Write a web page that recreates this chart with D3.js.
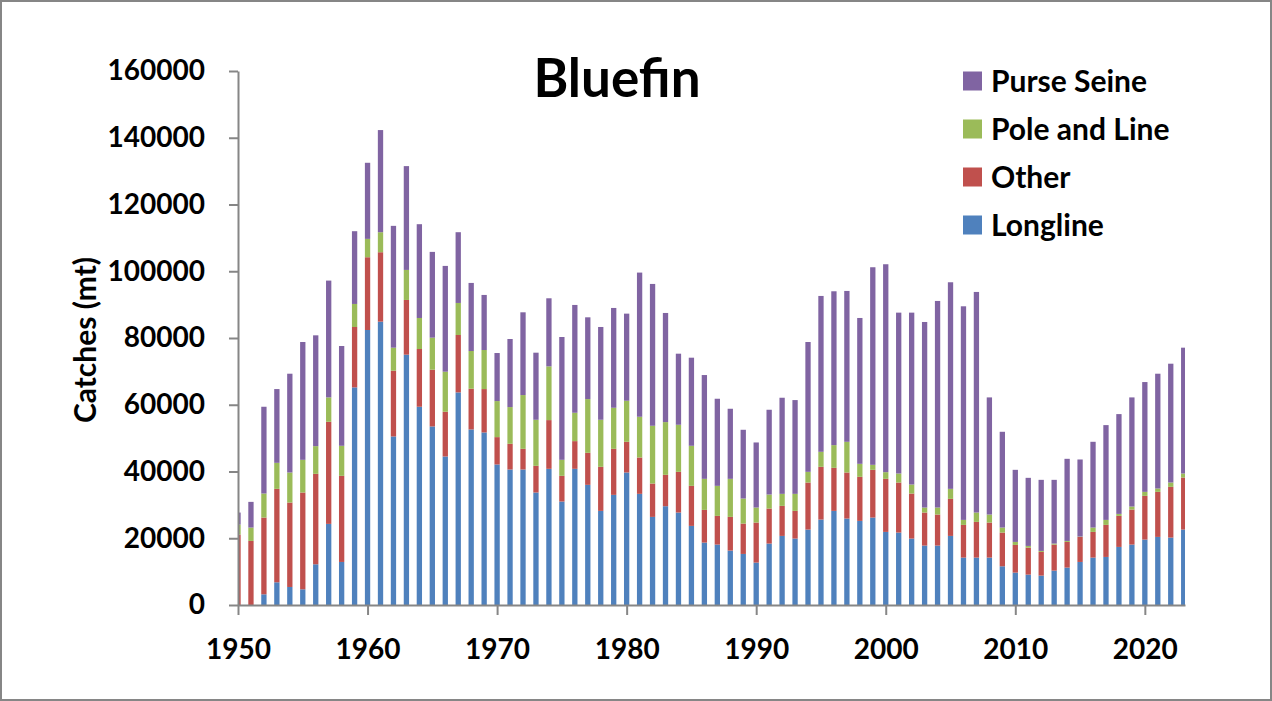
<!DOCTYPE html>
<html>
<head>
<meta charset="utf-8">
<script src="https://cdn.jsdelivr.net/npm/d3@7"></script>
<style>
  body { margin: 0; background: #fff; }
  text { font-family: Lato, "Open Sans", sans-serif; font-weight: 700; fill: #000; }
</style>
</head>
<body>
<svg id="chart"></svg>
<script>
// catches by gear, mt, 1950-2023
const firstYear = 1950;
const longline = [
    0, 0, 3200, 6800, 5400, 4700, 12200, 24300, 12900, 65200,
    82400, 84900, 50500, 75000, 59400, 53500, 44500, 63700, 52600, 51700,
    42100, 40600, 40600, 33700, 40800, 31000, 40800, 36000, 28200, 33000,
    39700, 33300, 26400, 29600, 27700, 23700, 18700, 18100, 16300, 15300,
    12700, 18400, 20700, 19900, 22600, 25600, 28200, 25900, 25200, 26200,
    21900, 21700, 19900, 17800, 17800, 20700, 14200, 14200, 14200, 11600,
    9700, 9100, 8800, 10300, 11200, 12900, 14200, 14400, 17400, 18100,
    19600, 20400, 20200, 22600
];
const other = [
    21100, 19200, 23000, 28000, 25300, 29000, 27100, 30600, 25800, 18100,
    21800, 20800, 19700, 16400, 17300, 17000, 13400, 17200, 12200, 13000,
    8200, 7700, 6200, 8000, 14600, 7700, 8300, 9600, 13200, 13800,
    9200, 10900, 10000, 9400, 12200, 12000, 9800, 8600, 10100, 9100,
    12000, 10500, 9000, 8300, 14100, 15800, 12900, 13800, 13200, 14300,
    15900, 15000, 13500, 9900, 9300, 11100, 9800, 10700, 10500, 10100,
    8300, 8100, 7100, 7800, 7700, 7500, 7700, 9600, 9300, 10500,
    13100, 13500, 15200, 15600
];
const poleLine = [
    3000, 4000, 7200, 7800, 9000, 9800, 8300, 7300, 9000, 6900,
    5500, 6000, 6900, 9000, 9300, 9600, 12000, 9600, 11300, 11700,
    10800, 11000, 16100, 13800, 16100, 4800, 8500, 16100, 14100, 12300,
    12300, 12200, 17300, 15800, 14100, 12000, 9300, 9000, 11400, 7500,
    4500, 4200, 3600, 5100, 3200, 4500, 6800, 9200, 3900, 1500,
    2000, 2700, 2700, 1500, 2100, 3000, 1500, 2800, 2400, 1500,
    900, 500, 300, 300, 300, 100, 1300, 1500, 600, 900,
    1200, 1000, 1300, 1200
];
const purseSeine = [
    3600, 7700, 26000, 22100, 29600, 35300, 33200, 35000, 29900, 21800,
    22800, 30600, 36500, 31100, 28100, 25700, 31700, 21200, 20400, 16500,
    14400, 20400, 24800, 20100, 20400, 36800, 32300, 24500, 27800, 29900,
    26100, 43200, 42500, 32700, 21300, 26400, 31100, 26100, 21000, 20600,
    19500, 25400, 28800, 28100, 38900, 46700, 46100, 45200, 43700, 59200,
    62300, 48200, 51500, 55600, 61900, 61900, 64000, 66100, 35100, 28700,
    21600, 20400, 21300, 19100, 24600, 23100, 25700, 28400, 29900, 32700,
    32900, 34400, 35600, 37700
];

const seriesNames = ["Longline", "Other", "Pole and Line", "Purse Seine"];
const seriesColors = ["#4F81BD", "#C0504D", "#9BBB59", "#8064A2"];
const yTicks = [0, 20000, 40000, 60000, 80000, 100000, 120000, 140000, 160000];
const xTicks = [1950, 1960, 1970, 1980, 1990, 2000, 2010, 2020];

const width = 1272;
const height = 701;
const plot = { left: 238, right: 1185, top: 71, bottom: 605 };

const rows = longline.map((v, i) => ({
    year: firstYear + i,
    "Longline": v,
    "Other": other[i],
    "Pole and Line": poleLine[i],
    "Purse Seine": purseSeine[i]
}));

const svg = d3.select("#chart")
    .attr("width", width)
    .attr("height", height);

// outer frame
svg.append("rect")
    .attr("x", 1).attr("y", 1)
    .attr("width", width - 2).attr("height", height - 2)
    .attr("fill", "#fff")
    .attr("stroke", "#868686")
    .attr("stroke-width", 2);

const x = d3.scaleLinear()
    .domain([1950, 2023.1])
    .range([plot.left, plot.right]);

const y = d3.scaleLinear()
    .domain([0, 160000])
    .range([plot.bottom, plot.top]);

const color = d3.scaleOrdinal().domain(seriesNames).range(seriesColors);

const stacked = d3.stack().keys(seriesNames)(rows);
const barW = (x(1951) - x(1950)) * 0.41;

svg.append("clipPath")
    .attr("id", "plotClip")
    .append("rect")
    .attr("x", plot.left)
    .attr("y", 0)
    .attr("width", plot.right - plot.left)
    .attr("height", height);

//Bars
svg.append("g")
    .attr("clip-path", "url(#plotClip)")
    .selectAll("g")
    .data(stacked)
    .join("g")
    .attr("fill", d => color(d.key))
    .selectAll("rect")
    .data(d => d)
    .join("rect")
    .attr("x", d => x(d.data.year) - barW / 2)
    .attr("width", barW)
    .attr("y", d => y(d[1]))
    .attr("height", d => y(d[0]) - y(d[1]));

// Y axis
const yAxis = svg.append("g")
    .attr("transform", `translate(${plot.left},0)`)
    .call(d3.axisLeft(y).tickValues(yTicks).tickSize(9).tickSizeOuter(0).tickPadding(24).tickFormat(d3.format("d")));

// X axis
const xAxis = svg.append("g")
    .attr("transform", `translate(0,${plot.bottom})`)
    .call(d3.axisBottom(x).tickValues(xTicks).tickSize(10).tickSizeOuter(0).tickFormat(d3.format("d")));

xAxis.selectAll("text").attr("y", 54).attr("dy", 0);

[xAxis, yAxis].forEach(a => {
    a.selectAll("path, line").attr("stroke", "#868686").attr("stroke-width", 2);
    a.selectAll("text")
        .style("font-size", "28px")
        .style("font-family", "Lato, 'Open Sans', sans-serif")
        .style("font-weight", 700)
        .attr("fill", "#000");
});

// title
svg.append("text")
    .attr("x", 617)
    .attr("y", 97)
    .attr("text-anchor", "middle")
    .style("font-size", "53px")
    .text("Bluefin");

// y axis title
svg.append("text")
    .attr("transform", "translate(96,340) rotate(-90)")
    .attr("text-anchor", "middle")
    .style("font-size", "30px")
    .text("Catches (mt)");

// legend, top series first
const legend = svg.append("g")
    .attr("transform", "translate(963,81)")
    .selectAll("g")
    .data(seriesNames.slice().reverse())
    .join("g")
    .attr("transform", (d, i) => `translate(0,${i * 48})`);

legend.append("rect")
    .attr("x", 0)
    .attr("y", -9.5)
    .attr("width", 19)
    .attr("height", 19)
    .attr("fill", d => color(d));

legend.append("text")
    .attr("x", 28)
    .attr("dy", "0.36em")
    .style("font-size", "30px")
    .text(d => d);
</script>
</body>
</html>
